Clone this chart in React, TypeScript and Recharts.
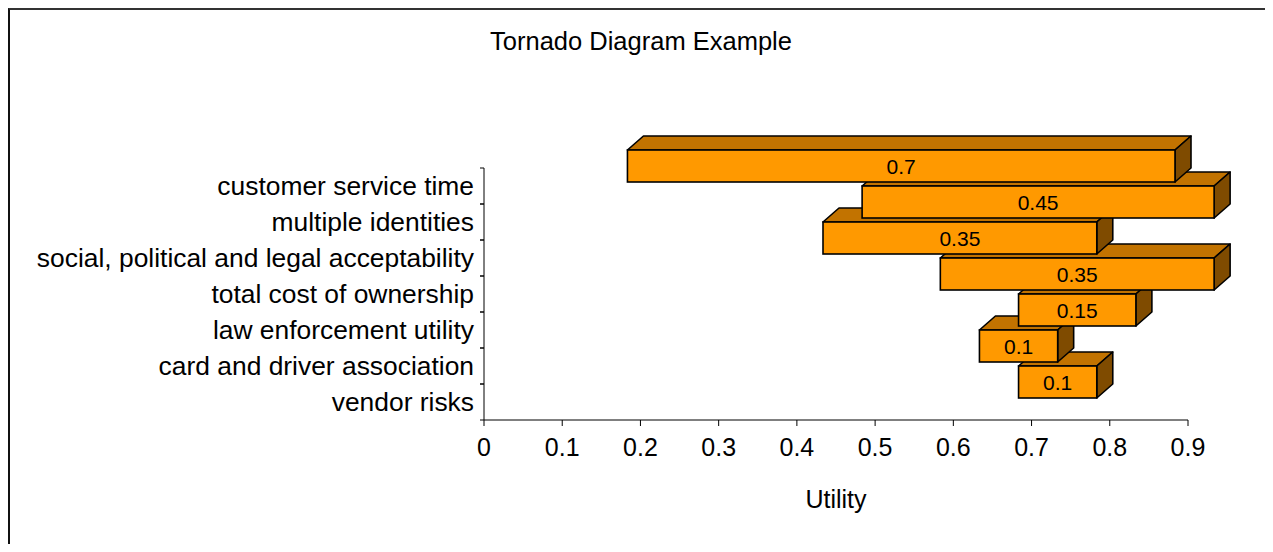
import React from 'react';
import { BarChart, Bar, XAxis, YAxis } from 'recharts';

// listed bottom to top, so the upper boxes are painted over the lower ones
const factors = [
  'vendor risks',
  'card and driver association',
  'law enforcement utility',
  'total cost of ownership',
  'social, political and legal acceptability',
  'multiple identities',
  'customer service time',
];
const lowUtility = [0.7, 0.65, 0.7, 0.6, 0.45, 0.5, 0.2];
const highUtility = [0.8, 0.75, 0.85, 0.95, 0.8, 0.95, 0.9];
const utilityTicks = [0, 0.1, 0.2, 0.3, 0.4, 0.5, 0.6, 0.7, 0.8, 0.9];

const FONT = '"Liberation Sans", Arial, sans-serif';

const rows = factors.map((factor, i) => ({
  factor,
  low: lowUtility[i],
  high: highUtility[i],
  range: [lowUtility[i], highUtility[i]],
}));

// excel style 3d box
function BoxBar(props: any) {
  const { x, y, width, height, payload } = props;
  if (width == null || height == null) return null;
  const dx = 16;
  const dy = 14;
  const fx = x - 13;
  const fy = y - 20;
  const swing = Math.round((payload.high - payload.low) * 100) / 100;
  return (
    <g>
      <polygon
        points={`${fx},${fy} ${fx + dx},${fy - dy} ${fx + width + dx},${fy - dy} ${fx + width},${fy}`}
        fill="#C27300"
        stroke="#000"
        strokeWidth={1.6}
        strokeLinejoin="round"
      />
      <polygon
        points={`${fx + width},${fy} ${fx + width + dx},${fy - dy} ${fx + width + dx},${fy + height - dy} ${fx + width},${fy + height}`}
        fill="#7F4B00"
        stroke="#000"
        strokeWidth={1.6}
        strokeLinejoin="round"
      />
      <rect x={fx} y={fy} width={width} height={height} fill="#FF9900" stroke="#000" strokeWidth={1.6} />
      <text
        x={fx + width / 2}
        y={fy + height / 2}
        dy="0.36em"
        textAnchor="middle"
        fontSize={21}
        fontFamily={FONT}
        fill="#000"
      >
        {swing}
      </text>
    </g>
  );
}

function FactorTick({ x, y, payload }: any) {
  return (
    <g>
      <line x1={x + 6} x2={x + 10} y1={y - 18} y2={y - 18} stroke="#000" />
      <line x1={x + 6} x2={x + 10} y1={y + 18} y2={y + 18} stroke="#000" />
      <text x={x} y={y} dy="0.355em" textAnchor="end" fontSize={26.4} fontFamily={FONT} fill="#000">
        {payload.value}
      </text>
    </g>
  );
}

export default function App() {
  return (
    <div
      style={{
        position: 'relative',
        width: 1257,
        height: 536,
        boxSizing: 'border-box',
        borderLeft: '2px solid #111',
        borderTop: '2px solid #333',
        overflow: 'hidden',
        background: '#fff',
        fontFamily: FONT,
      }}
    >
      <style>{'.recharts-bar-rectangles{clip-path:none !important}'}</style>
      <div
        style={{
          position: 'absolute',
          left: 31,
          top: 17,
          width: 1200,
          textAlign: 'center',
          fontSize: 25.5,
          lineHeight: '29px',
          color: '#000',
        }}
      >
        Tornado Diagram Example
      </div>
      <div style={{ position: 'absolute', left: 0, top: 0 }}>
        <BarChart
          width={1255}
          height={534}
          data={rows}
          layout="vertical"
          margin={{ top: 158, right: 77, left: 0, bottom: 24 }}
        >
          <XAxis
            type="number"
            domain={[0, 0.9]}
            allowDataOverflow
            ticks={utilityTicks}
            height={100}
            tickSize={6}
            tickMargin={12}
            axisLine={{ stroke: '#000' }}
            tickLine={{ stroke: '#000' }}
            tick={{ fill: '#000', fontSize: 25, fontFamily: FONT }}
            label={{
              value: 'Utility',
              position: 'insideBottom',
              offset: 12,
              fill: '#000',
              fontSize: 25,
              fontFamily: FONT,
            }}
          />
          <YAxis
            type="category"
            dataKey="factor"
            reversed
            width={474}
            tickSize={0}
            tickMargin={10}
            tickLine={false}
            axisLine={{ stroke: '#000' }}
            tick={<FactorTick />}
            interval={0}
          />
          <Bar dataKey="range" barSize={32} shape={<BoxBar />} isAnimationActive={false} />
        </BarChart>
      </div>
    </div>
  );
}
